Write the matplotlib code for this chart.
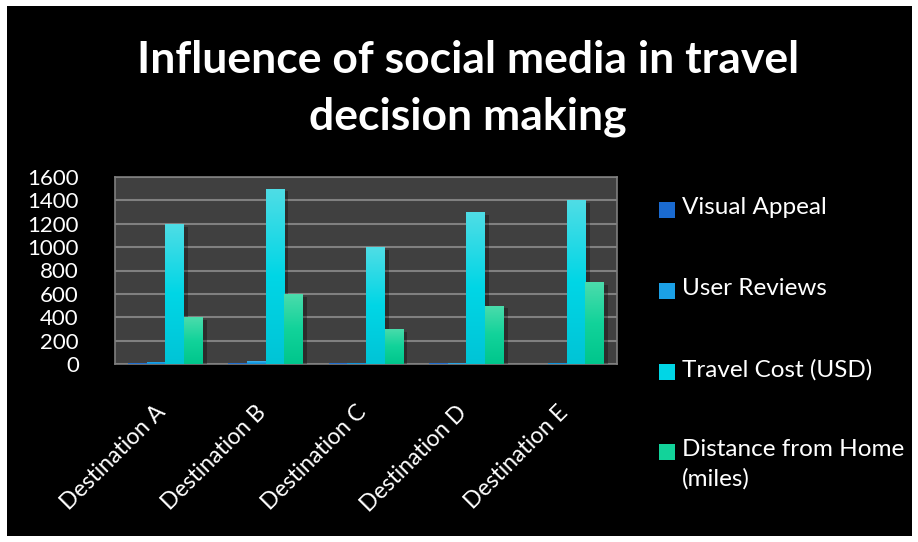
import numpy as np
import matplotlib.pyplot as plt
from matplotlib.patches import Rectangle
from matplotlib.colors import LinearSegmentedColormap
import matplotlib.patheffects as pe
import matplotlib.transforms as mtrans

plt.rcParams['font.family'] = ['Lato', 'DejaVu Sans']

# data
destinations = ['Destination A', 'Destination B', 'Destination C', 'Destination D', 'Destination E']
visual_appeal = [8, 8, 7, 7, 3]
user_reviews = [20, 22, 9, 8, 10]
travel_cost = [1200, 1500, 1000, 1300, 1400]
distance_home = [400, 600, 300, 500, 700]
series_names = ['Visual Appeal', 'User Reviews', 'Travel Cost (USD)', 'Distance from Home\n(miles)']
yticks = [0, 200, 400, 600, 800, 1000, 1200, 1400, 1600]

# gradient colours (bottom -> top)
grads = [
    ['#0b55b8', '#1a6ad0', '#3c86dc'],
    ['#0a8ed8', '#1ba0e6', '#4ab4ea'],
    ['#00c4d6', '#00d6e6', '#4fdde5'],
    ['#00c68c', '#12d39a', '#4cdcac'],
]

fig = plt.figure(figsize=(9.18, 5.42), dpi=100, facecolor='white')
W, H = 918, 542
fig.patches.append(Rectangle((7 / W, 1 - 536 / H), (912 - 7) / W, (536 - 6) / H,
                             transform=fig.transFigure, facecolor='black', edgecolor='none', zorder=-10))

ax = fig.add_axes([115 / W, 1 - 364 / H, (617 - 115) / W, (364 - 177) / H])
ax.set_zorder(2)
ax.set_facecolor('#404040')
for s in ax.spines.values():
    s.set_color('#7f7f7f')
    s.set_linewidth(1.2)

x = np.arange(len(destinations))
w = 0.185
data = [visual_appeal, user_reviews, travel_cost, distance_home]
grad_img = np.linspace(0, 1, 200).reshape(-1, 1)
for i, vals in enumerate(data):
    cmap = LinearSegmentedColormap.from_list('g%d' % i, grads[i])
    bars = ax.bar(x + (i - 1.5) * w, vals, w, color=grads[i][1], zorder=3,
                  path_effects=[pe.SimplePatchShadow(offset=(3, -2), shadow_rgbFace='black', alpha=0.3), pe.Normal()])
    for b in bars:
        im = ax.imshow(grad_img, extent=[b.get_x(), b.get_x() + b.get_width(), 0, b.get_height()],
                       origin='lower', aspect='auto', cmap=cmap, zorder=4)
        im.set_clip_path(b)

ax.set_xlim(-0.5, len(destinations) - 0.5)
ax.set_ylim(0, 1600)
ax.set_yticks(yticks)
ax.set_yticklabels([str(t) for t in yticks])
ax.yaxis.grid(True, color='#808080', linewidth=1.5, zorder=1)
ax.set_axisbelow(True)
ax.tick_params(axis='y', length=0, pad=26, labelsize=16, labelcolor='white')
ax.set_xticks(x)
ax.set_xticklabels(destinations, rotation=45, ha='right', rotation_mode='anchor')
ax.tick_params(axis='x', length=0, pad=27, labelsize=16.5, labelcolor='white')
shift = mtrans.ScaledTranslation(-10 / 100, 0, fig.dpi_scale_trans)
for lbl in ax.get_xticklabels():
    lbl.set_transform(lbl.get_transform() + shift)

fig.text(468 / W, 1 - 60 / H, 'Influence of social media in travel', color='white',
         fontsize=32, fontweight='bold', ha='center', va='center')
fig.text(468 / W, 1 - 117 / H, 'decision making', color='white',
         fontsize=32, fontweight='bold', ha='center', va='center')

# legend
leg_y = [210, 291, 372, 452]
for i, name in enumerate(series_names):
    fig.patches.append(Rectangle((659 / W, 1 - (leg_y[i] + 8) / H), 16 / W, 16 / H,
                                 transform=fig.transFigure, facecolor=grads[i][1], edgecolor='none'))
    fig.text(682 / W, 1 - (leg_y[i] - 13) / H, name, color='white', fontsize=17.5,
             ha='left', va='top', linespacing=1.45)

fig.savefig('out.png', dpi=100, facecolor='white')
